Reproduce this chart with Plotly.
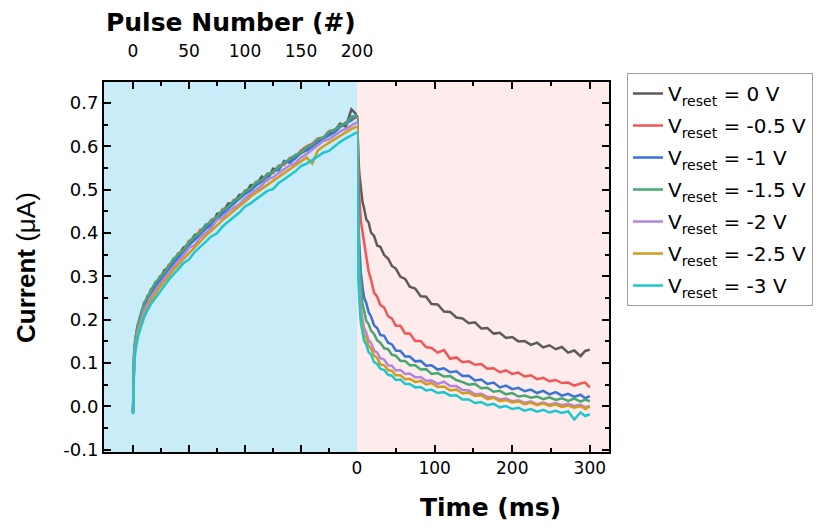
import plotly.graph_objects as go

# ---------------- data ----------------
PULSE = [0, 1, 2, 3, 4, 6, 8, 10, 13, 16, 20, 24, 28, 32, 36, 40, 45, 50, 55, 60, 65, 70, 75, 80,
         85, 90, 95, 100, 105, 110, 115, 120, 125, 130, 135, 140, 145, 150, 155, 160, 165, 170,
         175, 180, 185, 190, 195, 200]
TIME_MS = [0, 1, 2, 3, 5, 7, 9, 12, 15, 18, 22, 26, 30, 35, 40, 45, 50, 56, 62, 68, 75, 82, 89, 96,
           104, 112, 120, 128, 136, 144, 152, 160, 168, 176, 184, 192, 200, 208, 216, 224, 232, 240,
           248, 256, 264, 272, 280, 288, 294, 300]

LABELS = ["V<sub>reset</sub> = 0 V", "V<sub>reset</sub> = -0.5 V", "V<sub>reset</sub> = -1 V",
          "V<sub>reset</sub> = -1.5 V", "V<sub>reset</sub> = -2 V", "V<sub>reset</sub> = -2.5 V",
          "V<sub>reset</sub> = -3 V"]

# potentiation (current vs pulse number)
P_0V = [-0.015, 0.118, 0.152, 0.165, 0.183, 0.198, 0.221, 0.232, 0.255, 0.263, 0.286, 0.293, 0.314, 0.32,
        0.34, 0.345, 0.366, 0.374, 0.395, 0.4, 0.419, 0.412, 0.444, 0.447, 0.468, 0.469, 0.488, 0.49,
        0.51, 0.511, 0.53, 0.522, 0.548, 0.545, 0.566, 0.563, 0.576, 0.584, 0.592, 0.6, 0.612, 0.618,
        0.628, 0.636, 0.652, 0.645, 0.685, 0.672]
P_05V = [-0.012, 0.122, 0.148, 0.17, 0.185, 0.203, 0.215, 0.238, 0.249, 0.27, 0.279, 0.3, 0.306, 0.327,
         0.332, 0.352, 0.358, 0.382, 0.386, 0.407, 0.411, 0.431, 0.435, 0.455, 0.458, 0.476, 0.479,
         0.498, 0.5, 0.518, 0.52, 0.537, 0.538, 0.555, 0.557, 0.573, 0.575, 0.59, 0.6, 0.606, 0.618,
         0.62, 0.635, 0.638, 0.645, 0.655, 0.66, 0.668]
P_1V = [-0.014, 0.115, 0.145, 0.163, 0.178, 0.196, 0.214, 0.228, 0.248, 0.26, 0.278, 0.29, 0.304, 0.318,
        0.33, 0.342, 0.357, 0.372, 0.384, 0.398, 0.41, 0.42, 0.434, 0.445, 0.456, 0.466, 0.478, 0.49,
        0.498, 0.51, 0.518, 0.528, 0.542, 0.546, 0.565, 0.562, 0.572, 0.586, 0.59, 0.6, 0.61, 0.618,
        0.625, 0.632, 0.645, 0.652, 0.66, 0.675]
P_15V = [-0.013, 0.12, 0.154, 0.172, 0.186, 0.205, 0.222, 0.24, 0.25, 0.268, 0.284, 0.298, 0.309, 0.325,
         0.338, 0.35, 0.36, 0.379, 0.392, 0.401, 0.417, 0.428, 0.437, 0.452, 0.46, 0.474, 0.481, 0.496,
         0.502, 0.516, 0.522, 0.535, 0.54, 0.552, 0.561, 0.57, 0.58, 0.585, 0.598, 0.603, 0.616, 0.62,
         0.633, 0.638, 0.648, 0.652, 0.668, 0.67]
P_2V = [-0.016, 0.108, 0.138, 0.156, 0.17, 0.188, 0.204, 0.222, 0.238, 0.252, 0.268, 0.282, 0.296, 0.308,
        0.322, 0.334, 0.348, 0.366, 0.371, 0.39, 0.4, 0.413, 0.43, 0.436, 0.449, 0.458, 0.466, 0.48,
        0.49, 0.5, 0.51, 0.524, 0.528, 0.538, 0.546, 0.556, 0.561, 0.574, 0.582, 0.592, 0.6, 0.612,
        0.616, 0.625, 0.634, 0.64, 0.648, 0.655]
P_25V = [-0.015, 0.1, 0.13, 0.148, 0.162, 0.182, 0.196, 0.214, 0.23, 0.244, 0.26, 0.275, 0.288, 0.3,
         0.315, 0.326, 0.34, 0.355, 0.368, 0.38, 0.394, 0.405, 0.418, 0.43, 0.44, 0.452, 0.462, 0.472,
         0.484, 0.493, 0.502, 0.512, 0.52, 0.53, 0.538, 0.548, 0.556, 0.566, 0.574, 0.56, 0.59, 0.6,
         0.608, 0.616, 0.624, 0.632, 0.64, 0.645]
P_3V = [-0.018, 0.095, 0.125, 0.142, 0.156, 0.174, 0.19, 0.206, 0.222, 0.236, 0.25, 0.265, 0.278, 0.292,
        0.304, 0.316, 0.33, 0.339, 0.356, 0.368, 0.38, 0.392, 0.399, 0.415, 0.426, 0.437, 0.447, 0.461,
        0.468, 0.478, 0.487, 0.497, 0.501, 0.515, 0.524, 0.533, 0.542, 0.554, 0.56, 0.568, 0.576, 0.585,
        0.589, 0.6, 0.61, 0.618, 0.626, 0.632]

# relaxation (current vs time after reset)
D_0V = [0.672, 0.60, 0.568, 0.536, 0.503, 0.472, 0.458, 0.431, 0.424, 0.401, 0.393, 0.371, 0.368, 0.349,
        0.341, 0.324, 0.318, 0.299, 0.294, 0.276, 0.272, 0.254, 0.253, 0.236, 0.235, 0.219, 0.218, 0.205,
        0.203, 0.192, 0.194, 0.18, 0.181, 0.168, 0.17, 0.158, 0.16, 0.15, 0.151, 0.142, 0.147, 0.136,
        0.141, 0.132, 0.137, 0.124, 0.129, 0.116, 0.128, 0.131]
D_05V = [0.668, 0.58, 0.515, 0.482, 0.427, 0.404, 0.371, 0.343, 0.311, 0.293, 0.262, 0.253, 0.234, 0.228,
         0.208, 0.203, 0.186, 0.186, 0.168, 0.168, 0.151, 0.151, 0.137, 0.135, 0.124, 0.13, 0.11, 0.113,
         0.102, 0.104, 0.096, 0.098, 0.087, 0.088, 0.079, 0.083, 0.075, 0.078, 0.069, 0.072, 0.063,
         0.066, 0.058, 0.061, 0.054, 0.055, 0.048, 0.053, 0.055, 0.044]
D_1V = [0.665, 0.5, 0.418, 0.372, 0.308, 0.278, 0.252, 0.238, 0.217, 0.208, 0.187, 0.181, 0.165, 0.163,
        0.147, 0.143, 0.129, 0.128, 0.115, 0.115, 0.104, 0.105, 0.094, 0.095, 0.085, 0.088, 0.079, 0.081,
        0.07, 0.071, 0.06, 0.062, 0.052, 0.055, 0.044, 0.048, 0.04, 0.043, 0.035, 0.039, 0.031, 0.036,
        0.028, 0.033, 0.025, 0.029, 0.022, 0.027, 0.019, 0.024]
D_15V = [0.668, 0.47, 0.382, 0.327, 0.272, 0.236, 0.222, 0.197, 0.19, 0.175, 0.167, 0.152, 0.147, 0.134,
         0.132, 0.119, 0.117, 0.105, 0.105, 0.095, 0.095, 0.085, 0.086, 0.075, 0.077, 0.069, 0.07, 0.061,
         0.056, 0.05, 0.052, 0.042, 0.043, 0.034, 0.036, 0.028, 0.031, 0.023, 0.025, 0.02, 0.023, 0.017,
         0.021, 0.015, 0.019, 0.013, 0.018, 0.011, 0.016, 0.012]
D_2V = [0.655, 0.42, 0.327, 0.283, 0.228, 0.203, 0.182, 0.17, 0.152, 0.147, 0.129, 0.124, 0.111, 0.108,
        0.095, 0.094, 0.083, 0.084, 0.075, 0.076, 0.067, 0.068, 0.059, 0.06, 0.052, 0.057, 0.047, 0.047,
        0.038, 0.037, 0.028, 0.029, 0.022, 0.022, 0.016, 0.018, 0.012, 0.014, 0.008, 0.012, 0.005, 0.009,
        0.004, 0.008, 0.003, 0.006, 0.001, 0.004, -0.002, 0.001]
D_25V = [0.648, 0.4, 0.306, 0.262, 0.207, 0.187, 0.166, 0.157, 0.139, 0.134, 0.117, 0.112, 0.097, 0.095,
         0.084, 0.082, 0.072, 0.072, 0.063, 0.064, 0.056, 0.059, 0.051, 0.054, 0.045, 0.046, 0.037, 0.039,
         0.03, 0.032, 0.024, 0.026, 0.017, 0.02, 0.012, 0.015, 0.009, 0.012, 0.005, 0.009, 0.003, 0.007,
         0.001, 0.005, -0.001, 0.002, -0.003, 0.001, -0.006, 0.0]
D_3V = [0.632, 0.38, 0.287, 0.243, 0.192, 0.172, 0.152, 0.142, 0.125, 0.12, 0.102, 0.098, 0.087, 0.084,
        0.073, 0.071, 0.061, 0.062, 0.052, 0.052, 0.044, 0.045, 0.037, 0.039, 0.031, 0.033, 0.025, 0.026,
        0.016, 0.016, 0.008, 0.01, 0.003, 0.006, -0.002, 0.001, -0.006, -0.003, -0.01, -0.006, -0.012,
        -0.008, -0.014, -0.01, -0.015, -0.011, -0.03, -0.014, -0.022, -0.018]

POT = [P_0V, P_05V, P_1V, P_15V, P_2V, P_25V, P_3V]
DEC = [D_0V, D_05V, D_1V, D_15V, D_2V, D_25V, D_3V]
COLORS = ["#5e5a5a", "#f25555", "#3a73d6", "#45a872", "#b483e0", "#d39a1c", "#1fc6cf"]

Y_TICKS = [-0.1, 0.0, 0.1, 0.2, 0.3, 0.4, 0.5, 0.6, 0.7]
Y_TICKTEXT = ["-0.1", "0.0", "0.1", "0.2", "0.3", "0.4", "0.5", "0.6", "0.7"]
PULSE_TICKS = [0, 50, 100, 150, 200]
TIME_TICKS = [0, 100, 200, 300]

# ---------------- figure ----------------
WIDE = "DejaVu Sans, Verdana, sans-serif"
ARIAL = "Liberation Sans, Arial, sans-serif"
split = 0.501

fig = go.Figure()
for lab, p, d, c in zip(LABELS, POT, DEC, COLORS):
    fig.add_trace(go.Scatter(x=PULSE, y=p, mode="lines", name=lab, legendgroup=lab,
                             line=dict(color=c, width=2.5), xaxis="x", yaxis="y"))
    fig.add_trace(go.Scatter(x=TIME_MS, y=d, mode="lines", name=lab, legendgroup=lab, showlegend=False,
                             line=dict(color=c, width=2.5), xaxis="x2", yaxis="y2"))

axis_common = dict(showline=True, linecolor="black", linewidth=2, ticks="inside", tickcolor="black",
                   tickwidth=2, ticklen=7, showgrid=False, zeroline=False, mirror="ticks",
                   tickfont=dict(family=WIDE, size=17, color="black"))
minor_common = dict(ticks="inside", ticklen=4, tickcolor="black", tickwidth=2)
Y_MINOR = [-0.05, 0.05, 0.15, 0.25, 0.35, 0.45, 0.55, 0.65]

yr = [-0.105, 0.748]
fig.update_layout(
    width=827, height=532,
    margin=dict(l=104, r=218, t=82, b=80),
    paper_bgcolor="white", plot_bgcolor="rgba(0,0,0,0)",
    font=dict(family=WIDE, color="black"),
    showlegend=True,
    xaxis=dict(axis_common, domain=[0, split], range=[-25.9, 200], side="top", anchor="y",
               tickvals=PULSE_TICKS, ticklabelstandoff=16,
               minor=dict(minor_common, tickvals=[25, 75, 125, 175])),
    xaxis2=dict(axis_common, domain=[split, 1], range=[0, 324.7], side="bottom", anchor="y2",
                tickvals=TIME_TICKS, minor=dict(minor_common, tickvals=[50, 150, 250])),
    yaxis=dict(axis_common, mirror=False, domain=[0, 1], range=yr, anchor="x", tickvals=Y_TICKS,
               ticktext=Y_TICKTEXT, tickfont=dict(family=WIDE, size=18, color="black"),
               minor=dict(minor_common, tickvals=Y_MINOR)),
    yaxis2=dict(axis_common, mirror=False, domain=[0, 1], range=yr, anchor="x2", side="right",
                tickvals=Y_TICKS, showticklabels=False, minor=dict(minor_common, tickvals=Y_MINOR)),
    legend=dict(x=1.0356, y=1.0243, xanchor="left", yanchor="top", bgcolor="white",
                bordercolor="#a0a0a0", borderwidth=1, tracegroupgap=3,
                font=dict(family=WIDE, size=20, color="black")),
    shapes=[
        dict(type="rect", xref="paper", yref="paper", x0=0, x1=split, y0=0, y1=1,
             fillcolor="#c9ecf9", line=dict(width=0), layer="below"),
        dict(type="rect", xref="paper", yref="paper", x0=split, x1=1, y0=0, y1=1,
             fillcolor="#fdeceb", line=dict(width=0), layer="below"),
    ],
    annotations=[
        dict(text="<b>Pulse Number (#)</b>", xref="paper", yref="paper", x=0.2515, y=1.162,
             xanchor="center", yanchor="middle", showarrow=False,
             font=dict(family=WIDE, size=25, color="black")),
        dict(text="<b>Time (ms)</b>", xref="paper", yref="paper", x=0.766, y=-0.151,
             xanchor="center", yanchor="middle", showarrow=False,
             font=dict(family=WIDE, size=25, color="black")),
        dict(text="<b>Current</b> (μA)", xref="paper", yref="paper", x=-0.1545, y=0.5,
             xanchor="center", yanchor="middle", textangle=-90, showarrow=False,
             font=dict(family=ARIAL, size=26, color="black")),
    ],
)

fig.write_html("out.html")
